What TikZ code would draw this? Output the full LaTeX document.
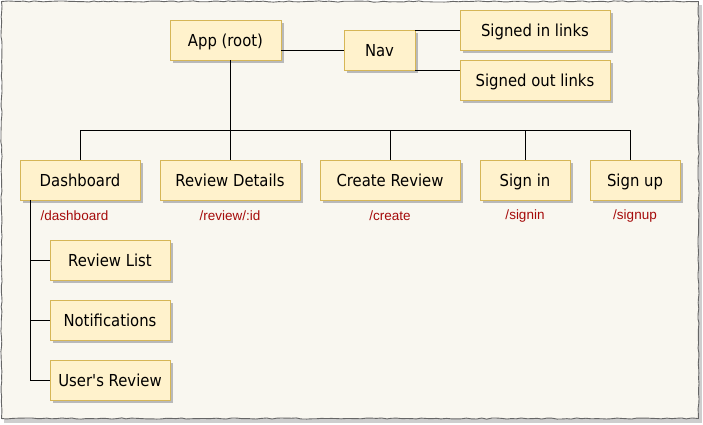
\documentclass[tikz,border=0pt]{standalone}
\usepackage{fontspec}
\newfontfamily\boxfont{DejaVu Sans Condensed}
\newfontfamily\routefont{Liberation Sans}
\usetikzlibrary{shadows,decorations.pathmorphing}
\definecolor{paper}{RGB}{249,247,240}
\definecolor{boxfill}{RGB}{255,242,204}
\definecolor{boxline}{RGB}{214,182,86}
\definecolor{routered}{RGB}{165,10,10}
\definecolor{shadowgray}{RGB}{185,185,185}
\tikzset{
  comp/.style={draw=boxline, fill=boxfill, line width=0.9pt, minimum height=40pt,
    inner sep=0pt, text height=16pt, text depth=3pt,
    font=\boxfont\fontsize{16.5}{19}\selectfont, text=black,
    drop shadow={shadow xshift=3pt, shadow yshift=-3pt, fill=shadowgray, opacity=1}},
  route/.style={font=\routefont\fontsize{13.5}{16}\selectfont, text=routered, inner sep=0pt},
  link/.style={draw=black, line width=0.8pt},
}
\begin{document}
\begin{tikzpicture}[x=1pt,y=-1pt]
\useasboundingbox (0,0) rectangle (703,424);
% paper background
\fill[shadowgray!70] (4,5) rectangle (702,423);
\draw[draw=gray!80!black, fill=paper, line width=0.9pt,
  decorate, decoration={random steps, segment length=5pt, amplitude=0.6pt}]
  (1.5,1.5) rectangle (698.5,418.5);

% nodes
\node[comp, minimum width=111pt] (app) at (225.5,40) {App (root)};
\node[comp, minimum width=71pt] (nav) at (379.5,50) {Nav};
\node[comp, minimum width=150pt] (sin) at (535,30) {Signed in links};
\node[comp, minimum width=150pt] (sout) at (535,80) {Signed out links};

\node[comp, minimum width=120pt] (dash) at (80,180) {Dashboard};
\node[comp, minimum width=140pt] (rd) at (230,180) {Review Details};
\node[comp, minimum width=140pt] (cr) at (390,180) {Create Review};
\node[comp, minimum width=90pt] (si) at (525,180) {Sign in};
\node[comp, minimum width=90pt] (su) at (635,180) {Sign up};

\node[route] (rdash) at (74.5,216) {/dashboard};
\node[route] (rrd) at (230,216) {/review/:id};
\node[route] (rcr) at (390,216) {/create};
\node[route] (rsi) at (525,216) {/signin};
\node[route] (rsu) at (635,216) {/signup};

\node[comp, minimum width=120pt] (rl) at (110,260) {Review List};
\node[comp, minimum width=120pt] (nt) at (110,320) {Notifications};
\node[comp, minimum width=120pt] (ur) at (110,380) {User's Review};

% bus coordinates
\coordinate (bus) at (230,130);
\coordinate (busl) at (80,130);
\coordinate (busr) at (630,130);
\coordinate (d1) at (30,260);
\coordinate (d2) at (30,320);
\coordinate (d3) at (30,380);

% connectors
\draw[link] (app.east |- nav.west) -- (nav.west);
\draw[link] (nav.east |- sin.west) -- (sin.west);
\draw[link] (nav.south east) -- (nav.south east -| sout.west);
\draw[link] (app.south -| bus) -- (bus);
\draw[link] (busl) -- (busr);
\draw[link] (busl) -- (dash.north);
\draw[link] (bus) -- (rd.north);
\draw[link] (cr.north |- bus) -- (cr.north);
\draw[link] (si.north |- bus) -- (si.north);
\draw[link] (busr) -- (busr |- su.north);
\draw[link] (dash.south west -| d1) -- (d3);
\draw[link] (d1) -- (rl.west);
\draw[link] (d2) -- (nt.west);
\draw[link] (d3) -- (ur.west);
\end{tikzpicture}
\end{document}
